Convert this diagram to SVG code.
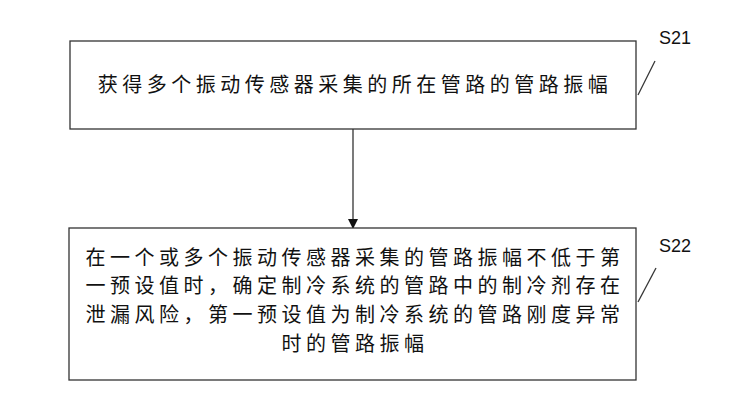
<svg xmlns="http://www.w3.org/2000/svg" width="747" height="412" viewBox="0 0 747 412">
<defs>
<style>
.box{fill:#fff;stroke:#333;stroke-width:1.3}
.t{font-family:"Noto Sans CJK SC","Noto Sans",sans-serif;font-size:20px;fill:#111;text-anchor:middle;letter-spacing:4.5px}
.lbl{font-family:"Liberation Sans",Arial,sans-serif;font-size:18px;fill:#111}
.ln{stroke:#333;stroke-width:1.3;fill:none}
</style>
<marker id="ah" markerWidth="10" markerHeight="10" refX="9" refY="5" orient="auto" markerUnits="userSpaceOnUse">
<path d="M0,0 L10,5 L0,10 Z" fill="#111"/>
</marker>
</defs>
<rect width="747" height="412" fill="#fff"/>
<g id="connectors">
<line class="ln" x1="353" y1="129" x2="353" y2="228" marker-end="url(#ah)"/>
<line class="ln" x1="655" y1="61" x2="638" y2="95"/>
<line class="ln" x1="656" y1="268" x2="638" y2="302"/>
</g>
<g id="S21">
<rect class="box" x="70" y="41" width="566" height="88"/>
<text class="t" x="355" y="92">获得多个振动传感器采集的所在管路的管路振幅</text>
<text class="lbl" x="659" y="44">S21</text>
</g>
<g id="S22">
<rect class="box" x="69" y="228" width="567" height="152"/>
<text class="t" x="355" y="265">在一个或多个振动传感器采集的管路振幅不低于第</text>
<text class="t" x="355" y="293">一预设值时，确定制冷系统的管路中的制冷剂存在</text>
<text class="t" x="355" y="322">泄漏风险，第一预设值为制冷系统的管路刚度异常</text>
<text class="t" x="355" y="351">时的管路振幅</text>
<text class="lbl" x="659" y="252">S22</text>
</g>
</svg>
